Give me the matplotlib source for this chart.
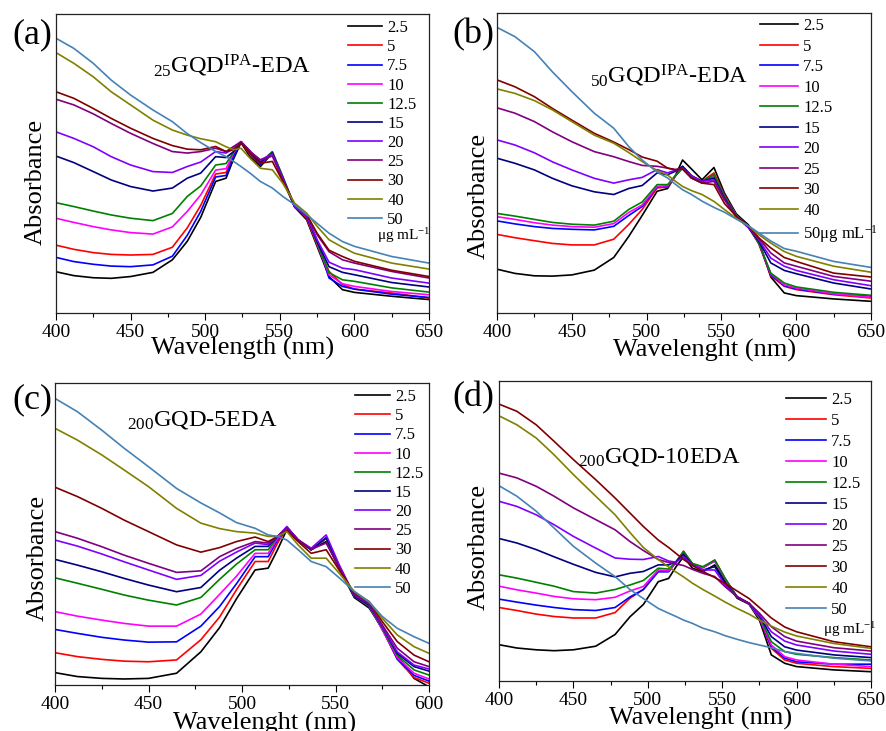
import matplotlib
matplotlib.use('Agg')
import matplotlib.pyplot as plt
from matplotlib.ticker import MultipleLocator

plt.rcParams['font.family'] = ['Liberation Serif', 'DejaVu Serif']
plt.rcParams['mathtext.fontset'] = 'custom'
plt.rcParams['mathtext.rm'] = 'Liberation Serif'
plt.rcParams['mathtext.it'] = 'Liberation Serif:italic'

# concentrations (ug/mL) and line colours, same order in every panel
CONC = ['2.5', '5', '7.5', '10', '12.5', '15', '20', '25', '30', '40', '50']
COLORS = ['#000000', '#ff0000', '#0000ff', '#ff00ff', '#008000', '#000080',
          '#8000ff', '#800080', '#800000', '#808000', '#4682b4']

# wavelengths (nm) where the spectra were read
WL = [400, 412, 425, 437, 450, 465, 478, 488, 497, 507, 514, 519, 524, 530,
      537, 545, 552, 560, 568, 575, 583, 592, 600, 625, 650]
WL_C = WL[:23]

# absorbance, arbitrary units (0-100 of the axis height)
ABS_A = [
    [13.8, 12.5, 11.8, 11.6, 12.2, 13.6, 17.8, 24, 32, 44, 45.1, 51.5, 57, 52.3, 49, 53.5, 44.5, 35.4, 31.2, 22.3, 12.2, 7.8, 6.9, 5.6, 4.5],
    [22.7, 21.3, 20.2, 19.6, 19.4, 19.6, 22, 28.5, 36, 46.5, 47, 53, 57.3, 53, 49.6, 53.7, 44.8, 35.9, 31.7, 22.8, 13.9, 9.5, 8.0, 6.7, 5.0],
    [18.6, 17.2, 16.3, 15.7, 15.5, 16.1, 19, 26, 34, 45.5, 46, 52.3, 57.3, 53.5, 49.6, 53.7, 45.1, 35.4, 32.3, 24.3, 11.7, 8.9, 8.0, 6.3, 5.2],
    [31.7, 30.3, 28.9, 27.8, 26.9, 26.4, 28.8, 34, 39.5, 47.8, 48.3, 53.5, 57.3, 54.3, 50.1, 53.7, 45.4, 35.6, 32.3, 23.2, 12.8, 9.8, 8.9, 7.2, 6.1],
    [36.9, 35.6, 34.1, 32.8, 31.7, 30.9, 33.3, 39, 42.5, 49.5, 50, 53.8, 57.3, 54, 50.3, 54, 45.7, 35.6, 32.3, 23.4, 13.5, 11.1, 10.6, 8.4, 7.0],
    [52.5, 50.3, 47.3, 44.5, 42.3, 40.8, 41.8, 45.1, 46.8, 52.3, 52, 54, 57.3, 54, 50.4, 53.5, 45.1, 35.6, 32.3, 23.9, 15.5, 13.6, 12.8, 10.2, 8.7],
    [60.6, 58.4, 55.6, 52.3, 49.5, 47.3, 47, 49, 50.5, 54, 53.5, 55.1, 57.3, 54, 51.2, 53.2, 45.1, 35.6, 32.3, 24.5, 17, 15, 14.5, 11.7, 10.0],
    [71.5, 69.6, 66.6, 63.4, 60.1, 56.7, 54, 53.5, 54, 55.1, 54, 55.7, 57.3, 54, 51.2, 52.5, 44.5, 36.2, 32.9, 26.2, 20.5, 17.8, 16.7, 13.9, 11.7],
    [74, 71.8, 68.4, 65.1, 61.8, 58.4, 56, 54.8, 54.6, 55.7, 54, 54.6, 56.8, 53.5, 50.1, 50.7, 44, 36.2, 32.9, 26.7, 21, 18.9, 17.3, 14.3, 12.2],
    [87.1, 83.5, 79, 74, 69.6, 64.5, 61.2, 59.5, 58.3, 57.3, 55.6, 54.6, 55.1, 51.8, 48.4, 47.9, 43.4, 36.7, 33.4, 29, 24.5, 22, 20, 16.7, 14.7],
    [91.9, 88.5, 83.5, 77.9, 72.9, 67.9, 64, 60, 57, 54, 52.3, 50.7, 49, 46.8, 44, 41.8, 39, 36.2, 32.9, 30, 26.7, 23.9, 22.3, 18.9, 16.7],
]

ABS_B = [
    [14.6, 13.2, 12.4, 12.3, 12.7, 14.3, 18.5, 25.5, 32.5, 40.6, 41.5, 45.6, 51, 48, 44.4, 48.5, 40, 33, 29.4, 24, 12, 6.7, 5.8, 4.7, 3.9],
    [26.2, 25.1, 24.1, 23.2, 22.7, 22.7, 24.6, 29.5, 34.5, 41.7, 42, 45.6, 48.9, 45.6, 43.9, 46.7, 39.4, 32.5, 28.9, 23, 12.4, 8.9, 7.8, 6.1, 5],
    [30.7, 29.7, 28.8, 28.2, 27.9, 27.7, 28.9, 32.5, 35.5, 42, 42.2, 45.6, 48.7, 45.2, 43.9, 45.8, 39, 32.5, 28.7, 23.3, 12.8, 9.1, 8, 6.3, 5.6],
    [32.1, 31.2, 30.1, 29.3, 28.8, 28.6, 29.8, 33.5, 36, 42.2, 42.4, 45.6, 48.3, 45, 43.9, 45.6, 38.9, 32.5, 28.7, 23.3, 13.1, 9.4, 8.3, 6.4, 5.3],
    [33.2, 32.3, 31.2, 30.2, 29.6, 29.3, 30.6, 34.5, 37, 42.8, 42.8, 45.6, 48.3, 45, 43.9, 46.1, 38.9, 32.5, 28.7, 23.3, 13.3, 10, 8.7, 6.9, 5.9],
    [51.6, 49.9, 47.7, 44.9, 42.4, 40.4, 39.5, 41.5, 42.5, 46.7, 46.1, 47.2, 48.9, 45.8, 43.9, 45, 38.3, 32.2, 28.5, 24, 16.7, 14.2, 13.1, 10, 8],
    [57.7, 56, 53.4, 50.4, 47.7, 44.9, 43.3, 44.4, 45.2, 47.8, 46.7, 47.6, 48.3, 45.6, 43.9, 44.4, 37.8, 32, 28.5, 24.4, 18.3, 15.6, 14.2, 11.1, 9.1],
    [68.4, 66.6, 63.8, 60.4, 57.1, 53.8, 52.1, 50.5, 49.2, 48.9, 48.3, 47.8, 48, 45, 43.3, 43.9, 37.8, 32.2, 28.9, 25, 20, 16.7, 15.6, 12.2, 10.6],
    [77.7, 75.4, 72.1, 68.2, 64.3, 59.9, 57, 54.5, 52, 50.6, 48.3, 47.8, 48, 45, 43.3, 42.8, 36.5, 32.2, 28.9, 25, 21.7, 18.5, 17.2, 13.3, 12],
    [74.7, 73.2, 70.8, 67.7, 63.8, 59.3, 56.6, 53.5, 50.5, 47.5, 46, 44, 42.2, 40.8, 39.5, 37.2, 34.5, 31.5, 29, 26.1, 23.3, 20.5, 18.9, 15.6, 13.6],
    [95.2, 92.1, 87.1, 80.4, 73.8, 66.6, 61.6, 55.5, 51, 47, 45, 43, 41.1, 39.5, 37.3, 35.2, 33.6, 31.3, 29.1, 26.7, 24, 21.5, 20.6, 17.2, 15.2],
]

ABS_C = [
    [4.1, 2.8, 2.2, 2.0, 2.2, 3.9, 11, 19, 28.5, 38.1, 38.7, 44.8, 51.5, 48, 44.8, 47.5, 38.5, 29, 25.5, 18.8, 9.9, 2.2, -0.6],
    [10.7, 9.4, 8.5, 7.9, 7.7, 8.3, 15, 22.5, 31.5, 40.9, 40.9, 47, 52, 48, 44.8, 48.6, 39, 29.5, 26, 18.5, 8.5, 2.5, 0.6],
    [18.4, 17.1, 15.8, 14.9, 14.2, 14.3, 19.5, 26, 33.5, 42.5, 42.5, 48, 52, 48, 44.8, 48.6, 39, 29.5, 26, 18.5, 8.8, 3.2, 1.3],
    [24.3, 22.8, 21.5, 20.4, 19.5, 19.5, 23.5, 30, 36, 43.6, 43.6, 48.5, 52, 48, 44.8, 48.6, 39, 29.5, 26.2, 18.3, 9.2, 3.9, 2],
    [35.5, 33.7, 31.7, 29.8, 28.1, 26.5, 29, 35, 40, 44.8, 44.8, 49, 52.2, 48, 44.8, 48.6, 39, 29.5, 26.2, 18.8, 9.9, 5, 3.3],
    [41.6, 39.7, 37.5, 35.3, 33.1, 30.9, 32.3, 38, 42, 45.9, 45.9, 49.2, 52.2, 48, 44.8, 48.8, 39.3, 29.5, 26.5, 19.3, 10.5, 6.1, 4.6],
    [48, 46, 43.4, 40.8, 38.1, 35, 36.3, 41, 44, 47, 46.5, 49.2, 52.5, 48.1, 45.3, 49.7, 39.8, 29.8, 26.8, 19.3, 11, 6.6, 5.3],
    [50.8, 48.6, 45.8, 43, 40.3, 37.3, 37.8, 42.5, 45.2, 47.5, 47, 49.2, 52, 48.1, 45, 47, 39, 30, 27, 19.9, 12.2, 7.7, 6.1],
    [65.5, 62.4, 58.5, 54.6, 50.8, 46.4, 44, 45.5, 47.5, 49, 47.5, 49.2, 51, 47.5, 43.6, 44.8, 38, 30.5, 27.6, 21, 14.4, 9.9, 7.7],
    [85, 81.1, 76.2, 71.2, 65.7, 58.5, 53.6, 51.8, 50.8, 50.3, 49.2, 49.2, 50.8, 46.4, 42, 42, 37, 31, 27.6, 22.1, 16.6, 12.7, 10.5],
    [94.9, 90.5, 84.4, 78.4, 72.3, 65.1, 60.3, 57, 53.8, 51.9, 49.7, 49.2, 48, 44.8, 40.9, 39.2, 35.5, 31, 27.5, 22.7, 18.8, 16, 13.8],
]

ABS_D = [
    [12.1, 11, 10.4, 10.1, 10.4, 11.6, 15.5, 21.4, 25.5, 33.1, 34.2, 38.1, 41.4, 37.6, 36.4, 38.7, 33.1, 27.6, 25.6, 20.3, 8.7, 5.9, 4.8, 3.7, 3.1],
    [24.5, 23.5, 22.3, 21.5, 21, 21, 22.8, 27.6, 30.5, 36.7, 36.7, 39.6, 43.3, 39, 37.8, 40.3, 34, 28, 25.8, 21, 10.9, 7, 5.9, 4.8, 4.2],
    [27.3, 26.3, 25.3, 24.5, 23.8, 23.5, 24.5, 28, 30.5, 36.4, 36.4, 39.6, 42.9, 38.9, 37.8, 40, 34, 28, 25.8, 21.1, 11.4, 7.6, 6.4, 5.6, 5.6],
    [31.6, 30.4, 29.3, 28.2, 27.4, 27.1, 27.9, 30, 31.5, 37, 36.7, 39.6, 42.9, 38.9, 37.8, 40, 34, 28, 25.8, 21.1, 12, 8.1, 7, 5.6, 4.8],
    [35.4, 34.3, 32.9, 31.6, 29.8, 29.3, 30.5, 32, 33.5, 37.6, 37.3, 39.8, 43.1, 39.2, 38.1, 40.3, 34.2, 28, 25.9, 21.4, 13.1, 9.8, 8.9, 7.8, 7],
    [47.5, 46, 43.8, 41.4, 38.9, 36.2, 34.7, 35.9, 36.5, 38.7, 38.7, 39.8, 42.2, 38.7, 37, 38.1, 32.6, 28, 25.9, 21.8, 14.8, 11.4, 10.3, 8.7, 7.8],
    [59.9, 58.2, 55.4, 52.1, 48.2, 44.3, 41, 40.6, 40.5, 41.5, 40, 39.6, 41.4, 38.7, 37, 37, 32, 28.1, 25.9, 22, 16.4, 13.3, 12, 10, 8.9],
    [69.3, 67.7, 64.9, 61.6, 57.7, 53.8, 50.4, 46.5, 43.5, 40.5, 39.5, 39, 38.5, 37.2, 35.9, 34.8, 31.4, 28.1, 25.9, 22.6, 18.1, 14.8, 13.3, 11.1, 10],
    [92.3, 89.9, 85.4, 79.9, 73.8, 67.1, 61, 56, 51.5, 47, 44.5, 42.5, 40.5, 38.5, 36.5, 34.5, 32.5, 30, 27.5, 24.5, 21, 18, 16.4, 13.1, 11.4],
    [88.4, 85.4, 81, 75.4, 68.8, 61.6, 55.4, 49.5, 44.5, 40.5, 38, 36.3, 34.7, 32.6, 30.5, 28.3, 26.3, 24.2, 22.3, 20.3, 18.3, 16.3, 15, 12.5, 10.9],
    [65.1, 61.6, 56.6, 51, 44.9, 39.3, 34.8, 30.5, 27.5, 24.2, 22.6, 21.5, 20.3, 19.2, 17.6, 16.4, 15.1, 13.9, 12.8, 12, 11.1, 9.8, 9.2, 7.6, 6.7],
]

UNIT = '\u03bcg mL$^{-1}$'

# per panel: data, x values, axes rect (fig fraction), title, xlabel, ...
PANELS = [
    dict(data=ABS_A, wl=WL, rect=[0.0632, 0.5718, 0.4210, 0.4090], xmax=650,
         title=r'$_{25}$GQD$^{\mathrm{IPA}}$-EDA', title_xy=(0.26, 0.803),
         xlabel='Wavelength (nm)', xlab_xy=(0.50, -0.08), ylab_xy=(-0.025, 0.44),
         leg_xy=(0.783, 0.980), spacing=0.19, handle=2.05, letter='(a)', letter_xy=(0.014, 0.952),
         unit_xy=(0.861, 0.258)),
    dict(data=ABS_B, wl=WL, rect=[0.5610, 0.5718, 0.4221, 0.4104], xmax=650,
         title=r'$_{50}$GQD$^{\mathrm{IPA}}$-EDA', title_xy=(0.249, 0.767),
         xlabel='Wavelenght (nm)', xlab_xy=(0.556, -0.085), ylab_xy=(-0.02, 0.39),
         leg_xy=(0.703, 0.983), spacing=0.27, handle=2.3, letter='(b)', letter_xy=(0.511, 0.952),
         unit_xy=None),
    dict(data=ABS_C, wl=WL_C, rect=[0.0621, 0.0629, 0.4221, 0.4131], xmax=600,
         title=r'$_{200}$GQD-5EDA', title_xy=(0.193, 0.861),
         xlabel='Wavelenght (nm)', xlab_xy=(0.56, -0.088), ylab_xy=(-0.018, 0.42),
         leg_xy=(0.802, 0.98), spacing=0.19, handle=2.1, letter='(c)', letter_xy=(0.014, 0.453),
         unit_xy=None),
    dict(data=ABS_D, wl=WL, rect=[0.5632, 0.0684, 0.4199, 0.4104], xmax=650,
         title=r'$_{200}$GQD-10EDA', title_xy=(0.212, 0.727),
         xlabel='Wavelenght (nm)', xlab_xy=(0.543, -0.088), ylab_xy=(-0.025, 0.447),
         leg_xy=(0.772, 0.963), spacing=0.30, handle=2.4, letter='(d)', letter_xy=(0.511, 0.4555),
         unit_xy=(0.871, 0.17)),
]

fig = plt.figure(figsize=(8.86, 7.31), dpi=100)

for i, p in enumerate(PANELS):
    ax = fig.add_axes(p['rect'])
    labels = list(CONC)
    if i == 1:
        labels[-1] = '50' + UNIT
    for series, color, lab in zip(p['data'], COLORS, labels):
        ax.plot(p['wl'], series, color=color, lw=1.2, label=lab)

    ax.set_xlim(400, p['xmax'])
    ax.set_ylim(0, 100)
    ax.xaxis.set_major_locator(MultipleLocator(50))
    ax.xaxis.set_minor_locator(MultipleLocator(25))
    ax.tick_params(axis='x', which='major', direction='out', length=5, width=0.8,
                   labelsize=14, pad=3, top=False)
    ax.tick_params(axis='x', which='minor', direction='out', length=3, width=0.8, top=False)
    ax.tick_params(axis='y', left=False, right=False, labelleft=False)
    for s in ax.spines.values():
        s.set_color('#222222')
        s.set_linewidth(0.9)

    ax.set_xlabel(p['xlabel'], fontsize=19, va='top')
    ax.xaxis.set_label_coords(*p['xlab_xy'])
    ax.set_ylabel('Absorbance', fontsize=19, va='bottom')
    ax.yaxis.set_label_coords(*p['ylab_xy'])

    ax.text(p['title_xy'][0], p['title_xy'][1], p['title'], transform=ax.transAxes,
            fontsize=17.5, va='baseline', ha='left')

    ax.legend(loc='upper left', bbox_to_anchor=p['leg_xy'], frameon=False,
              fontsize=12, handlelength=p['handle'], handletextpad=0.3,
              labelspacing=p['spacing'], borderpad=0, borderaxespad=0)
    if p['unit_xy'] is not None:
        ax.text(p['unit_xy'][0], p['unit_xy'][1], UNIT, transform=ax.transAxes,
                fontsize=11, va='center', ha='left')

    fig.text(p['letter_xy'][0], p['letter_xy'][1], p['letter'], fontsize=26,
             va='center', ha='left')

fig.savefig('out.png', dpi=100)
